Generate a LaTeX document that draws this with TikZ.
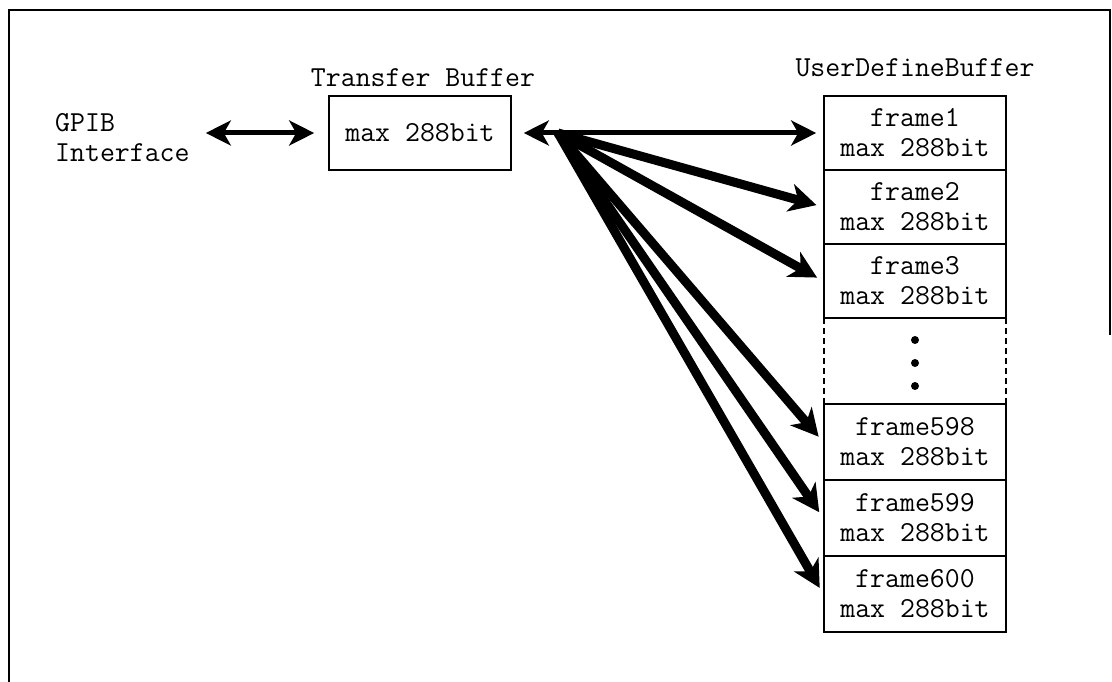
\documentclass[tikz,border=0pt]{standalone}
\usepackage{fontspec}
\usetikzlibrary{arrows.meta}
\tikzset{
  txt/.style={font=\ttfamily\fontsize{29}{30}\selectfont, inner sep=0pt},
  buf/.style={draw, line width=1.6pt, font=\ttfamily\fontsize{29}{30}\selectfont, align=center, minimum width=182pt, inner sep=0pt},
  dblarrow/.style={line width=5pt, {Stealth[length=25pt,width=25pt,inset=7pt]}-{Stealth[length=25pt,width=25pt,inset=7pt]}},
  fanarrow/.style={line width=9pt, -{Stealth[length=27pt,width=28pt,inset=8pt]}, shorten >=7pt},
  border/.style={line width=1.8pt}
}
\begin{document}
\begin{tikzpicture}[x=1pt,y=-1pt]
\useasboundingbox (0,0) rectangle (1112,682);
% outer frame (scanned, partly open)
\coordinate (tl) at (9,10);
\coordinate (tr) at (1110,10);
\coordinate (bl) at (9,682);
\coordinate (br) at (1110,335);
\draw[border] (bl) -- (tl) -- (tr) -- (br);

% left part
\node[txt, align=left, anchor=west] (gpib) at (55,138) {GPIB\\Interface};
\node[buf, minimum height=74pt] (tb) at (420,133) {max 288bit};
\node[txt] (tblabel) at (423,78) {Transfer Buffer};

% user define buffer stack
\node[txt] (udblabel) at (915,68) {UserDefineBuffer};
\node[buf, minimum height=74pt] (f1) at (915,133) {frame1\\max 288bit};
\node[buf, minimum height=74pt] (f2) at (915,207) {frame2\\max 288bit};
\node[buf, minimum height=74pt] (f3) at (915,281) {frame3\\max 288bit};
\node[minimum width=182pt, minimum height=86pt, inner sep=0pt] (fd) at (915,361) {};
\node[buf, minimum height=76pt] (f598) at (915,442) {frame598\\max 288bit};
\node[buf, minimum height=76pt] (f599) at (915,518) {frame599\\max 288bit};
\node[buf, minimum height=76pt] (f600) at (915,594) {frame600\\max 288bit};
\draw[line width=1.6pt, dash pattern=on 6pt off 4pt] (fd.north west) -- (fd.south west);
\draw[line width=1.6pt, dash pattern=on 6pt off 4pt] (fd.north east) -- (fd.south east);
\fill (915,340) circle (4pt);
\fill (915,363) circle (4pt);
\fill (915,386) circle (4pt);

% connectors
\draw[dblarrow, shorten <=16pt, shorten >=14pt] (gpib.east |- tb.west) -- (tb.west);
\draw[dblarrow, shorten <=12pt, shorten >=7pt] (tb.east) -- (f1.west);
\coordinate (hub) at (558,133);
\draw[fanarrow] (hub) -- (f2.west);
\draw[fanarrow] (hub) -- (f3.west);
\draw[fanarrow] (hub) -- (f598.west);
\draw[fanarrow] (hub) -- (f599.west);
\draw[fanarrow] (hub) -- (f600.west);
\end{tikzpicture}
\end{document}
